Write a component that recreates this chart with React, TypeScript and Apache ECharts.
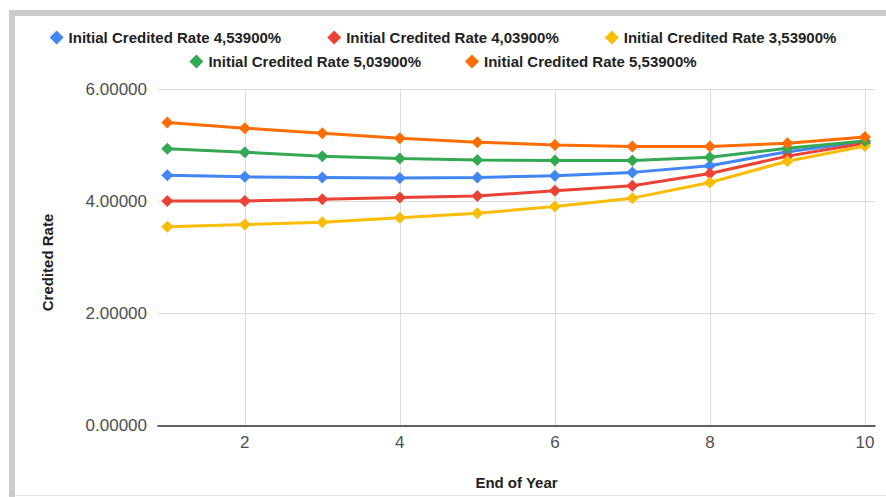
import { useEffect, useRef } from "react";
import * as echarts from "echarts";

const years = [1, 2, 3, 4, 5, 6, 7, 8, 9, 10];
const seriesNames = [
  "Initial Credited Rate 4,53900%",
  "Initial Credited Rate 4,03900%",
  "Initial Credited Rate 3,53900%",
  "Initial Credited Rate 5,03900%",
  "Initial Credited Rate 5,53900%",
];
const rate4539 = [4.47, 4.44, 4.43, 4.42, 4.43, 4.46, 4.52, 4.64, 4.89, 5.07];
const rate4039 = [4.01, 4.01, 4.04, 4.07, 4.1, 4.19, 4.28, 4.5, 4.81, 5.04];
const rate3539 = [3.55, 3.59, 3.63, 3.71, 3.79, 3.91, 4.06, 4.34, 4.72, 4.99];
const rate5039 = [4.94, 4.88, 4.81, 4.77, 4.74, 4.73, 4.73, 4.79, 4.95, 5.08];
const rate5539 = [5.41, 5.31, 5.22, 5.13, 5.06, 5.01, 4.98, 4.98, 5.04, 5.15];
const xTickValues = [2, 4, 6, 8, 10];
const colors = ["#4285F4", "#EA4335", "#FBBC04", "#34A853", "#FF6D01"];

const allValues = [rate4539, rate4039, rate3539, rate5039, rate5539];

export default function App() {
  const ref = useRef<HTMLDivElement>(null);
  useEffect(() => {
    if (!ref.current) return;
    const chart = echarts.init(ref.current, null, { renderer: "svg" });
    const legendCommon = {
      left: "center",
      icon: "diamond",
      itemWidth: 14,
      itemHeight: 14,
      itemTextGap: 9,
      textStyle: {
        fontFamily: "Liberation Sans, Arial, sans-serif",
        fontSize: 15,
        fontWeight: "bold" as const,
        color: "#222",
      },
    };
    chart.setOption({
      animation: false,
      backgroundColor: "#ffffff",
      color: colors,
      textStyle: { fontFamily: "Liberation Sans, Arial, sans-serif" },
      graphic: [
        { type: "rect", shape: { x: 9, y: 10, width: 877, height: 6 }, style: { fill: "#cccccc" }, silent: true },
        { type: "rect", shape: { x: 9, y: 10, width: 6, height: 487 }, style: { fill: "#cccccc" }, silent: true },
        { type: "rect", shape: { x: 15, y: 495, width: 871, height: 1 }, style: { fill: "#e6e6e6" }, silent: true },
      ],
      legend: [
        { ...legendCommon, top: 25, itemGap: 46, data: seriesNames.slice(0, 3) },
        { ...legendCommon, top: 49, itemGap: 44, data: seriesNames.slice(3) },
      ],
      grid: { left: 158, right: 11, top: 89.5, bottom: 71.5, containLabel: false },
      xAxis: {
        type: "value",
        min: 0.88,
        max: 10.13,
        name: "End of Year",
        nameLocation: "middle",
        nameGap: 49,
        nameTextStyle: { fontSize: 15, fontWeight: "bold", color: "#222" },
        axisLine: { show: true, onZero: false, lineStyle: { color: "#333", width: 1.5 } },
        axisTick: { show: false, customValues: xTickValues },
        axisLabel: {
          customValues: xTickValues,
          fontSize: 17,
          color: "#4f4f4f",
          margin: 8,
        },
        splitLine: { show: true, lineStyle: { color: "#dddddd", width: 1 } },
      },
      yAxis: {
        type: "value",
        min: 0,
        max: 6,
        interval: 2,
        name: "Credited Rate",
        nameLocation: "middle",
        nameGap: 103,
        nameTextStyle: { fontSize: 15, fontWeight: "bold", color: "#222", padding: [0, 10, 0, 0] },
        axisLine: { show: false },
        axisTick: { show: false },
        axisLabel: {
          fontSize: 17,
          color: "#4f4f4f",
          margin: 11,
          formatter: (v: number) => v.toFixed(5),
        },
        splitLine: { show: true, lineStyle: { color: "#dddddd", width: 1 } },
      },
      series: seriesNames.map((name, i) => ({
        name,
        type: "line",
        data: years.map((y, j) => [y, allValues[i][j]]),
        symbol: "diamond",
        symbolSize: 12,
        showSymbol: true,
        lineStyle: { width: 3, color: colors[i] },
        itemStyle: { color: colors[i] },
      })),
    });
    return () => chart.dispose();
  }, []);
  return (
    <div
      ref={ref}
      style={{ position: "absolute", left: 0, top: 0, width: 886, height: 497 }}
    />
  );
}
